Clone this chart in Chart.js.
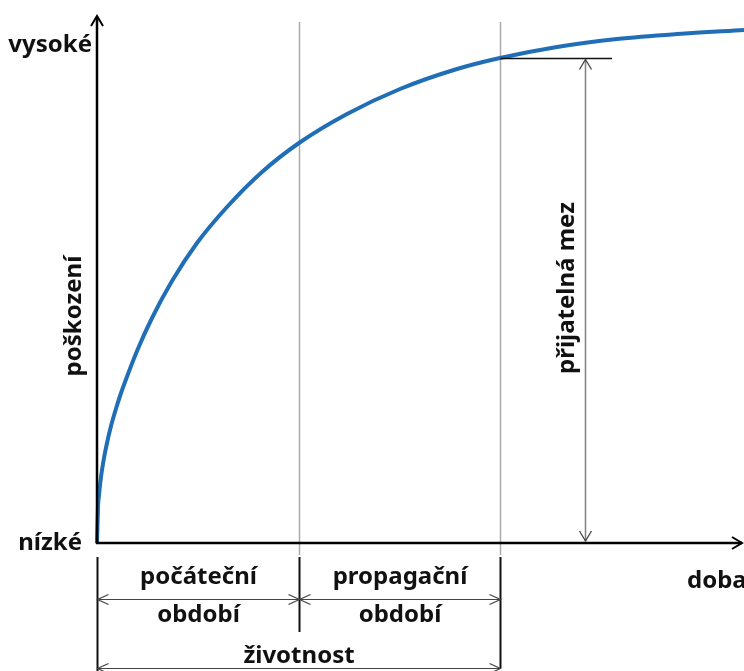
<!DOCTYPE html>
<html lang="cs">
<head>
    <meta charset="UTF-8">
    <title>Poškození v čase</title>
    <style>
        html, body { margin: 0; padding: 0; background: #fff; }
        .wrap { position: relative; width: 744px; height: 671px; }
    </style>
</head>
<body>
    <div class="wrap">
        <canvas id="damageChart"></canvas>
    </div>

    <script src="https://cdn.jsdelivr.net/npm/chart.js"></script>
    <script>
        // doba (x) a poškození (y)
        var timeValues = [0, 1, 2, 4, 7, 10, 14, 18, 23, 28, 40, 55, 75, 100, 130, 165, 202, 250, 303, 360, 403, 460, 520, 580, 647];
        var damageValues = [0, 36, 48, 66, 85, 100, 117, 131, 147, 161, 192, 225, 262, 300, 336, 371, 400, 429, 454, 474, 485, 496, 504, 509, 513];

        // hranice období a přijatelná mez
        var phaseBounds = [0, 202, 403];
        var phaseLabels = [['počáteční', 'období'], ['propagační', 'období']];
        var lifeLabel = 'životnost';
        var limitValue = 485;
        var limitLabel = 'přijatelná mez';
        var axisLabels = { yHigh: 'vysoké', yLow: 'nízké', yTitle: 'poškození', xTitle: 'doba' };

        var FONT = '700 24px "Noto Sans"';

        function chevron(ctx, x, y, dir, len, half) {
            // otevřená šipka, dir = 'up' | 'down' | 'left' | 'right'
            ctx.beginPath();
            if (dir === 'up') { ctx.moveTo(x - half, y + len); ctx.lineTo(x, y); ctx.lineTo(x + half, y + len); }
            if (dir === 'down') { ctx.moveTo(x - half, y - len); ctx.lineTo(x, y); ctx.lineTo(x + half, y - len); }
            if (dir === 'left') { ctx.moveTo(x + len, y - half); ctx.lineTo(x, y); ctx.lineTo(x + len, y + half); }
            if (dir === 'right') { ctx.moveTo(x - len, y - half); ctx.lineTo(x, y); ctx.lineTo(x - len, y + half); }
            ctx.stroke();
        }

        function line(ctx, x1, y1, x2, y2) {
            ctx.beginPath();
            ctx.moveTo(x1, y1);
            ctx.lineTo(x2, y2);
            ctx.stroke();
        }

        var diagramPlugin = {
            id: 'diagram',
            beforeDatasetsDraw: function(chart) {
                var ctx = chart.ctx, xs = chart.scales.x, area = chart.chartArea;
                ctx.save();
                ctx.strokeStyle = '#aaaaaa';
                ctx.lineWidth = 1.5;
                for (var i = 1; i < phaseBounds.length; i++) {
                    var px = Math.round(xs.getPixelForValue(phaseBounds[i])) + 0.5;
                    line(ctx, px, area.top + 6, px, area.bottom + 12);
                }
                ctx.restore();
            },
            afterDatasetsDraw: function(chart) {
                var ctx = chart.ctx, xs = chart.scales.x, ys = chart.scales.y, area = chart.chartArea;
                var x0 = xs.getPixelForValue(0), y0 = ys.getPixelForValue(0);
                var bx = phaseBounds.map(function(v) { return Math.round(xs.getPixelForValue(v)) + 0.5; });
                var endX = bx[bx.length - 1];
                var ly = Math.round(ys.getPixelForValue(limitValue)) + 0.5;

                ctx.save();
                ctx.lineCap = 'butt';

                // osy
                ctx.strokeStyle = '#000';
                ctx.lineWidth = 2.5;
                line(ctx, x0, y0 + 1, x0, area.top + 1);
                line(ctx, x0 - 1, y0, chart.width - 2, y0);
                ctx.lineWidth = 2;
                chevron(ctx, x0, area.top, 'up', 10, 6);
                chevron(ctx, chart.width - 2, y0, 'right', 10, 6);

                // přijatelná mez
                ctx.lineWidth = 1.5;
                ctx.strokeStyle = '#111';
                line(ctx, endX, ly, xs.getPixelForValue(515), ly);
                var ax = Math.round(xs.getPixelForValue(488)) + 0.5;
                ctx.strokeStyle = '#808080';
                line(ctx, ax, ly + 1, ax, y0 - 2);
                ctx.strokeStyle = '#444';
                ctx.lineWidth = 1.3;
                chevron(ctx, ax, ly + 1, 'up', 10, 6);
                chevron(ctx, ax, y0 - 2, 'down', 10, 6);

                // závorky pod osou
                ctx.strokeStyle = '#111';
                ctx.lineWidth = 2;
                line(ctx, bx[0], y0 + 14, bx[0], chart.height);
                line(ctx, bx[1], y0 + 14, bx[1], y0 + 89);
                line(ctx, bx[2], y0 + 14, bx[2], y0 + 125);

                ctx.strokeStyle = '#444';
                ctx.lineWidth = 1.2;
                var ay = y0 + 56.5;
                for (var i = 0; i < phaseBounds.length - 1; i++) {
                    line(ctx, bx[i], ay, bx[i + 1], ay);
                    chevron(ctx, bx[i], ay, 'left', 11, 5);
                    chevron(ctx, bx[i + 1], ay, 'right', 11, 5);
                }
                var ly2 = y0 + 125.5;
                line(ctx, bx[0], ly2, endX, ly2);
                chevron(ctx, bx[0], ly2, 'left', 11, 5);
                chevron(ctx, endX, ly2, 'right', 11, 5);

                // texty
                ctx.fillStyle = '#111';
                ctx.font = FONT;
                ctx.textBaseline = 'alphabetic';
                ctx.textAlign = 'right';
                ctx.fillText(axisLabels.yHigh, x0 - 5, area.top + 36);
                ctx.fillText(axisLabels.yLow, x0 - 15, y0 + 7);
                ctx.textAlign = 'left';
                ctx.fillText(axisLabels.xTitle, 687, y0 + 45);

                ctx.textAlign = 'center';
                for (var j = 0; j < phaseLabels.length; j++) {
                    var cx = (bx[j] + bx[j + 1]) / 2;
                    ctx.fillText(phaseLabels[j][0], cx, y0 + 41);
                    ctx.fillText(phaseLabels[j][1], cx, y0 + 79);
                }
                ctx.fillText(lifeLabel, (bx[0] + endX) / 2, y0 + 120);

                // svislé texty
                ctx.textBaseline = 'middle';
                ctx.save();
                ctx.translate(x0 - 23, 316);
                ctx.rotate(-Math.PI / 2);
                ctx.fillText(axisLabels.yTitle, 0, 0);
                ctx.restore();

                ctx.save();
                ctx.translate(ax - 18, 288);
                ctx.rotate(-Math.PI / 2);
                ctx.fillText(limitLabel, 0, 0);
                ctx.restore();

                ctx.restore();
            }
        };

        var points = timeValues.map(function(t, i) { return { x: t, y: damageValues[i] }; });

        new Chart(document.getElementById('damageChart'), {
            type: 'line',
            data: {
                datasets: [{
                    data: points,
                    borderColor: '#1f6eb6',
                    borderWidth: 4,
                    pointRadius: 0,
                    fill: false,
                    cubicInterpolationMode: 'monotone',
                    clip: false
                }]
            },
            options: {
                responsive: true,
                maintainAspectRatio: false,
                animation: false,
                layout: { padding: { left: 97, right: 0, top: 16, bottom: 128 } },
                plugins: { legend: { display: false }, tooltip: { enabled: false } },
                scales: {
                    x: { type: 'linear', min: 0, max: 647, display: false },
                    y: { type: 'linear', min: 0, max: 527, display: false }
                }
            },
            plugins: [diagramPlugin]
        });
    </script>
</body>
</html>
